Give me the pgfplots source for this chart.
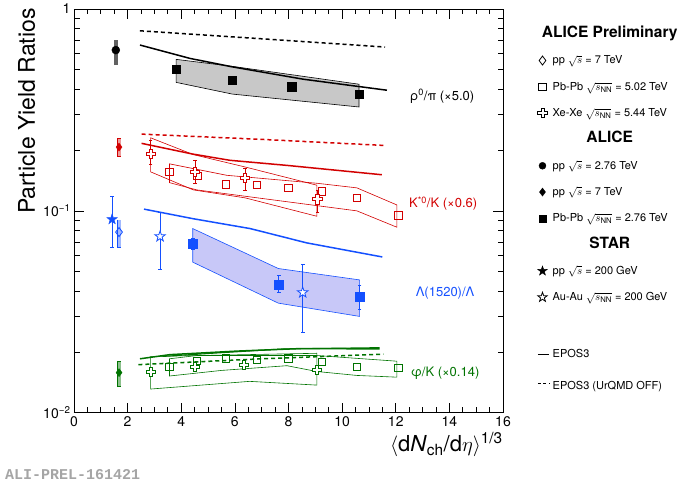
\documentclass[border=0pt]{standalone}
\usepackage{fontspec}
\setmainfont{TeX Gyre Heros}
\setmonofont{Liberation Mono}
\usepackage{pgfplots}
\pgfplotsset{compat=1.18}

\definecolor{kred}{RGB}{210,0,0}
\definecolor{kblue}{RGB}{20,80,255}
\definecolor{kgreen}{RGB}{0,115,0}
\definecolor{bandgray}{RGB}{200,200,200}
\definecolor{bandblue}{RGB}{200,200,248}
\definecolor{prelgray}{RGB}{165,165,165}

% open cross (ROOT marker 28)
\pgfdeclareplotmark{ocross}{%
  \pgfpathmoveto{\pgfqpoint{-0.33\pgfplotmarksize}{\pgfplotmarksize}}%
  \pgfpathlineto{\pgfqpoint{0.33\pgfplotmarksize}{\pgfplotmarksize}}%
  \pgfpathlineto{\pgfqpoint{0.33\pgfplotmarksize}{0.33\pgfplotmarksize}}%
  \pgfpathlineto{\pgfqpoint{\pgfplotmarksize}{0.33\pgfplotmarksize}}%
  \pgfpathlineto{\pgfqpoint{\pgfplotmarksize}{-0.33\pgfplotmarksize}}%
  \pgfpathlineto{\pgfqpoint{0.33\pgfplotmarksize}{-0.33\pgfplotmarksize}}%
  \pgfpathlineto{\pgfqpoint{0.33\pgfplotmarksize}{-\pgfplotmarksize}}%
  \pgfpathlineto{\pgfqpoint{-0.33\pgfplotmarksize}{-\pgfplotmarksize}}%
  \pgfpathlineto{\pgfqpoint{-0.33\pgfplotmarksize}{-0.33\pgfplotmarksize}}%
  \pgfpathlineto{\pgfqpoint{-\pgfplotmarksize}{-0.33\pgfplotmarksize}}%
  \pgfpathlineto{\pgfqpoint{-\pgfplotmarksize}{0.33\pgfplotmarksize}}%
  \pgfpathlineto{\pgfqpoint{-0.33\pgfplotmarksize}{0.33\pgfplotmarksize}}%
  \pgfpathclose\pgfusepathqfillstroke}

% five-pointed star
\pgfdeclareplotmark{fstar}{%
  \pgfpathmoveto{\pgfqpoint{0pt}{\pgfplotmarksize}}%
  \pgfpathlineto{\pgfqpoint{-0.235\pgfplotmarksize}{0.324\pgfplotmarksize}}%
  \pgfpathlineto{\pgfqpoint{-0.951\pgfplotmarksize}{0.309\pgfplotmarksize}}%
  \pgfpathlineto{\pgfqpoint{-0.380\pgfplotmarksize}{-0.124\pgfplotmarksize}}%
  \pgfpathlineto{\pgfqpoint{-0.588\pgfplotmarksize}{-0.809\pgfplotmarksize}}%
  \pgfpathlineto{\pgfqpoint{0pt}{-0.4\pgfplotmarksize}}%
  \pgfpathlineto{\pgfqpoint{0.588\pgfplotmarksize}{-0.809\pgfplotmarksize}}%
  \pgfpathlineto{\pgfqpoint{0.380\pgfplotmarksize}{-0.124\pgfplotmarksize}}%
  \pgfpathlineto{\pgfqpoint{0.951\pgfplotmarksize}{0.309\pgfplotmarksize}}%
  \pgfpathlineto{\pgfqpoint{0.235\pgfplotmarksize}{0.324\pgfplotmarksize}}%
  \pgfpathclose\pgfusepathqfillstroke}

\pgfplotsset{
  mkleg/.style={only marks, legend image code/.code={\draw[##1] plot coordinates {(0pt,0pt)};}},
  lnleg/.style={legend image code/.code={\draw[##1] (-4.5pt,0pt) -- (7pt,0pt);}},
  epos/.style={line width=1.5pt, forget plot},
  eposd/.style={line width=1.5pt, dash pattern=on 4pt off 3pt, forget plot},
}

% error bar with caps
\newcommand{\ebar}[4]{\addplot[#1, mark=-, mark size=1.8pt, line width=0.7pt, forget plot] coordinates {(#2,#3) (#2,#4)};}
% systematic box of the pp points
\newcommand{\sysbox}[5]{%
  \addplot[#1, line width=4.4pt, forget plot] coordinates {(#3,#4) (#3,#5)};
  \addplot[#2, line width=3pt, forget plot, shorten <=0.7pt, shorten >=0.7pt] coordinates {(#3,#4) (#3,#5)};}

\newcommand{\hdr}[1]{\hspace*{57pt}\makebox[0pt]{\fontsize{15.5}{17}\selectfont\bfseries #1}}

\begin{document}
\begin{tikzpicture}
\begin{axis}[
  name=ax, at={(0,0)}, anchor=south west,
  scale only axis, width=429pt, height=403.7pt,
  xmin=0, xmax=16, ymode=log, ymin=0.01, ymax=1,
  xtick={0,2,...,16}, minor x tick num=3,
  ytick={0.01,0.1,1},
  yticklabels={10\textsuperscript{−2},10\textsuperscript{−1},1},
  /pgf/number format/assume math mode=true,
  tick pos=both, tick align=inside,
  major tick length=10pt, minor tick length=5.5pt,
  every tick/.style={black, line width=0.7pt},
  axis line style={line width=0.8pt},
  ticklabel style={font=\fontsize{14}{16}\selectfont},
  xlabel={$\langle$d\textit{N}\textsubscript{ch}/d$\eta\rangle$\textsuperscript{1/3}},
  ylabel={Particle Yield Ratios},
  xlabel style={at={(axis description cs:1,-0.048)}, anchor=north east, inner sep=0pt, font=\fontsize{22}{26}\selectfont},
  ylabel style={at={(axis description cs:-0.1305,1.002)}, anchor=north east, inner sep=0pt, font=\fontsize{23}{27}\selectfont},
  clip=false,
  legend cell align=left,
  legend style={at={(axis description cs:1.0798,0.970)}, anchor=north west,
    draw=none, fill=none, inner sep=0pt, outer sep=0pt,
    row sep=0pt, column sep=2pt, font=\fontsize{11}{13}\selectfont,
    nodes={text height=16pt, text depth=9.3pt, inner sep=0.5pt}},
]

% ---------- bands and boxes ----------
\addplot[fill=bandgray, draw=black, line width=0.6pt, forget plot] coordinates {
  (3.81,0.563) (5.9,0.520) (10.63,0.424) (10.63,0.327) (5.9,0.379) (3.81,0.433)} -- cycle;
\addplot[fill=bandblue, draw=kblue, line width=0.6pt, forget plot] coordinates {
  (4.43,0.0817) (7.62,0.0518) (10.65,0.0455) (10.65,0.0300) (7.62,0.0349) (4.43,0.0557)} -- cycle;
\addplot[draw=kred, line width=0.6pt, forget plot] coordinates {
  (2.86,0.230) (4.45,0.190) (6.38,0.165) (9.06,0.134) (9.06,0.094) (6.38,0.116) (4.45,0.127) (2.86,0.156)} -- cycle;
\addplot[draw=kred, line width=0.6pt, forget plot] coordinates {
  (3.56,0.171) (5.70,0.150) (9.06,0.137) (10.55,0.130) (12.04,0.107)
  (12.04,0.083) (10.55,0.100) (7.94,0.111) (4.58,0.127) (3.56,0.138)} -- cycle;
\addplot[draw=kgreen, line width=0.6pt, forget plot] coordinates {
  (2.86,0.0190) (9.06,0.0197) (9.06,0.0137) (6.55,0.0143) (2.86,0.0131)} -- cycle;
\addplot[draw=kgreen, line width=0.6pt, forget plot] coordinates {
  (3.56,0.0185) (4.58,0.0192) (9.06,0.0192) (12.04,0.0180) (12.04,0.0150)
  (10.55,0.0153) (9.06,0.0160) (7.94,0.0171) (5.5,0.0162) (3.56,0.0152)} -- cycle;

% ---------- EPOS3 ----------
\addplot[epos, black] coordinates {(2.46,0.663) (4.33,0.569) (5.9,0.517) (8.55,0.449) (11.67,0.396)};
\addplot[eposd, black] coordinates {(2.46,0.780) (7.0,0.712) (11.6,0.648)};
\addplot[epos, kred] coordinates {(2.52,0.216) (4.44,0.191) (5.82,0.178) (7.94,0.168) (11.48,0.151)};
\addplot[eposd, kred] coordinates {(2.52,0.240) (7.0,0.226) (11.54,0.211)};
\addplot[epos, kblue] coordinates {(2.61,0.102) (4.45,0.0914) (6.57,0.0817) (8.68,0.0694) (11.5,0.0591)};
\addplot[epos, kgreen] coordinates {(2.46,0.0185) (3.58,0.0194) (6.1,0.0202) (8.5,0.0208) (11.4,0.0207)};
\addplot[epos, kgreen, line width=1.1pt] coordinates {(3.3,0.0190) (5.4,0.0198) (7.8,0.0207) (11.4,0.0210)};
\addplot[eposd, kgreen] coordinates {(2.4,0.0173) (7.0,0.0185) (11.54,0.0195)};

% ---------- rho0/pi (x5) ----------
\addplot[line width=3.5pt, color=black!62, forget plot] coordinates {(1.56,0.527) (1.56,0.700)};
\addplot[only marks, mark=*, mark size=4pt, black, forget plot] coordinates {(1.56,0.626)};
\addplot[only marks, mark=square*, mark size=4.3pt, black, forget plot] coordinates {
  (3.81,0.504) (5.9,0.444) (8.12,0.411) (10.63,0.379)};

% ---------- K*0/K (x0.6) ----------
\sysbox{kred}{kred!40}{1.68}{0.185}{0.230}
\addplot[only marks, mark=diamond*, mark size=4pt, kred, forget plot] coordinates {(1.68,0.207)};
\ebar{kred}{2.86}{0.1695}{0.2237}
\ebar{kred}{4.51}{0.137}{0.178}
\ebar{kred}{6.38}{0.126}{0.163}
\ebar{kred}{9.08}{0.098}{0.126}
\addplot[only marks, mark=square, mark size=3.7pt, kred, line width=0.9pt, forget plot] coordinates {
  (3.56,0.156) (4.61,0.149) (5.67,0.135) (6.82,0.134) (8.0,0.130) (9.24,0.125) (10.55,0.116) (12.1,0.095)};
\addplot[only marks, mark=ocross, mark size=4.6pt, kred, line width=0.9pt, mark options={fill=white}, forget plot] coordinates {
  (2.86,0.192) (4.51,0.156) (6.38,0.146) (9.08,0.114)};

% ---------- Lambda(1520)/Lambda ----------
\ebar{kblue}{1.42}{0.0656}{0.118}
\addplot[only marks, mark=fstar, mark size=5.5pt, kblue, mark options={fill=kblue}, forget plot] coordinates {(1.42,0.0908)};
\sysbox{kblue}{kblue!40}{1.68}{0.0656}{0.0906}
\addplot[only marks, mark=diamond, mark size=4.5pt, kblue, line width=0.9pt, mark options={fill=white}, forget plot] coordinates {(1.68,0.0785)};
\ebar{kblue}{3.21}{0.0512}{0.0985}
\ebar{kblue}{8.53}{0.0251}{0.0544}
\addplot[only marks, mark=fstar, mark size=5.5pt, kblue, line width=0.8pt, mark options={fill=white}, forget plot] coordinates {
  (3.21,0.0747) (8.53,0.0394)};
\ebar{kblue}{4.43}{0.0645}{0.0735}
\ebar{kblue}{7.64}{0.0394}{0.0477}
\ebar{kblue}{10.65}{0.0327}{0.0428}
\addplot[only marks, mark=square*, mark size=4.3pt, kblue, forget plot] coordinates {
  (4.43,0.0687) (7.64,0.0432) (10.65,0.0376)};

% ---------- phi/K (x0.14) ----------
\sysbox{kgreen}{kgreen!45}{1.68}{0.0134}{0.0180}
\addplot[only marks, mark=diamond*, mark size=4pt, kgreen, forget plot] coordinates {(1.68,0.0158)};
\addplot[only marks, mark=square, mark size=3.7pt, kgreen, line width=0.9pt, forget plot] coordinates {
  (3.56,0.0168) (4.58,0.0181) (5.67,0.0186) (6.82,0.0183) (8.0,0.0186) (9.24,0.0178) (10.55,0.0168) (12.1,0.0167)};
\addplot[only marks, mark=ocross, mark size=4.6pt, kgreen, line width=0.9pt, mark options={fill=white}, forget plot] coordinates {
  (2.86,0.0159) (4.51,0.0169) (6.34,0.0173) (9.06,0.0163)};

% ---------- series labels ----------
\node[font=\fontsize{13}{15}\selectfont] at (axis cs:13.73,0.370) {ρ\textsuperscript{0}/π (×5.0)};
\node[kred, font=\fontsize{13}{15}\selectfont] at (axis cs:13.77,0.109) {K\textsuperscript{*0}/K (×0.6)};
\node[kblue, font=\fontsize{13}{15}\selectfont] at (axis cs:13.84,0.0390) {Λ(1520)/Λ};
\node[kgreen, font=\fontsize{13}{15}\selectfont] at (axis cs:13.84,0.0156) {φ/K (×0.14)};

% ---------- legend ----------
\addlegendimage{empty legend}
\addlegendentry{\hdr{ALICE Preliminary}}
\addlegendimage{mkleg, black, mark=diamond, mark size=4.5pt, line width=0.8pt}
\addlegendentry{pp $\sqrt{s}$ = 7 TeV}
\addlegendimage{mkleg, black, mark=square, mark size=3.7pt, line width=0.8pt}
\addlegendentry{Pb-Pb $\sqrt{s_{\mathrm{NN}}}$ = 5.02 TeV}
\addlegendimage{mkleg, black, mark=ocross, mark size=4.6pt, line width=0.8pt, mark options={fill=white}}
\addlegendentry{Xe-Xe $\sqrt{s_{\mathrm{NN}}}$ = 5.44 TeV}
\addlegendimage{empty legend}
\addlegendentry{\hdr{ALICE}}
\addlegendimage{mkleg, black, mark=*, mark size=3.5pt}
\addlegendentry{pp $\sqrt{s}$ = 2.76 TeV}
\addlegendimage{mkleg, black, mark=diamond*, mark size=4pt}
\addlegendentry{pp $\sqrt{s}$ = 7 TeV}
\addlegendimage{mkleg, black, mark=square*, mark size=3.5pt}
\addlegendentry{Pb-Pb $\sqrt{s_{\mathrm{NN}}}$ = 2.76 TeV}
\addlegendimage{empty legend}
\addlegendentry{\hdr{STAR}}
\addlegendimage{mkleg, black, mark=fstar, mark size=5pt, mark options={fill=black}}
\addlegendentry{pp $\sqrt{s}$ = 200 GeV}
\addlegendimage{mkleg, black, mark=fstar, mark size=5pt, line width=0.8pt, mark options={fill=white}}
\addlegendentry{Au-Au $\sqrt{s_{\mathrm{NN}}}$ = 200 GeV}
\addlegendimage{empty legend}
\addlegendentry[text height=0pt, text depth=29.7pt]{}
\addlegendimage{lnleg, black, line width=1.5pt}
\addlegendentry{EPOS3}
\addlegendimage{lnleg, black, line width=1.5pt, dash pattern=on 3pt off 2.5pt}
\addlegendentry[text height=21.7pt]{EPOS3 (UrQMD OFF)}
\end{axis}

\node[anchor=west, inner sep=0pt, text=prelgray, font=\fontsize{15}{17}\ttfamily\bfseries]
  at ([shift={(-69pt,-62pt)}]ax.south west) {ALI-PREL-161421};

\pgfresetboundingbox
\path ([shift={(-74pt,-72.3pt)}]ax.south west) rectangle ([shift={(608pt,412.7pt)}]ax.south west);
\end{tikzpicture}
\end{document}
